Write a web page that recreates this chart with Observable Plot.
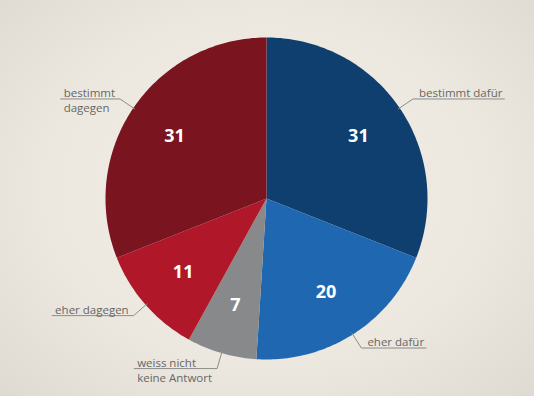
<!DOCTYPE html>
<html><head><meta charset="utf-8">
<script src="https://cdn.jsdelivr.net/npm/d3@7"></script>
<script src="https://cdn.jsdelivr.net/npm/@observablehq/plot@0.6"></script>
<style>
html,body{margin:0;padding:0;width:534px;height:396px;overflow:hidden;}
body{background: radial-gradient(ellipse 75% 80% at 50% 48%, #f3efe7 0%, #ece8df 55%, #dcd8cf 100%);}
svg{display:block;}
</style></head><body><div id="chart"></div>
<script>
// Data
const categories = ["bestimmt dafür", "eher dafür", "weiss nicht\nkeine Antwort", "eher dagegen", "bestimmt\ndagegen"];
const values = [31, 20, 7, 11, 31];
const colors = ["#0e3f6e", "#1f67b1", "#88898b", "#b0182a", "#7a141e"];

const total = d3.sum(values);
const labelSize = 11.5;
const ctx = document.createElement("canvas").getContext("2d");
ctx.font = `${labelSize}px 'Open Sans'`;

// Build slice geometry from values (angle clockwise from 12 o'clock)
let cum = 0;
const slices = values.map((v, i) => {
  const a0 = cum / total * 2 * Math.PI;
  cum += v;
  const a1 = cum / total * 2 * Math.PI;
  return {name: categories[i], value: v, a0, a1, mid: (a0 + a1) / 2};
});

const poly = [];
for (const s of slices) {
  poly.push({name: s.name, x: 0, y: 0});
  const n = Math.max(2, Math.ceil((s.a1 - s.a0) / (Math.PI / 180)));
  for (let k = 0; k <= n; k++) {
    const a = s.a0 + (s.a1 - s.a0) * k / n;
    poly.push({name: s.name, x: Math.sin(a), y: Math.cos(a)});
  }
}

const R = 161; // px per unit
const leaders = [];
const line1 = [], line2 = [];
for (const s of slices) {
  const ex = Math.sin(s.mid), ey = Math.cos(s.mid);
  const bx = ex * 1.1, by = ey * 1.1;
  const parts = s.name.split("\n");
  const w = d3.max(parts, p => ctx.measureText(p).width);
  const L = (w + 8) / R;
  const right = ex > 0;
  const endx = right ? bx + L : bx - L;
  leaders.push({name: s.name, x: ex * 0.99, y: ey * 0.99}, {name: s.name, x: bx, y: by}, {name: s.name, x: endx, y: by});
  const tx = Math.min(bx, endx) + (right ? 6 : 3) / R;
  line1.push({text: parts[0], x: tx, y: by});
  if (parts[1]) line2.push({text: parts[1], x: tx, y: by});
}

const nums = slices.map(s => ({text: String(s.value), x: Math.sin(s.mid) * 0.69, y: Math.cos(s.mid) * 0.69}));

const chart = Plot.plot({
  width: 534,
  height: 396,
  marginLeft: 105,
  marginRight: 107,
  marginTop: 37,
  marginBottom: 37,
  x: {domain: [-1, 1], axis: null},
  y: {domain: [-1, 1], axis: null},
  color: {domain: categories, range: colors},
  style: {background: "transparent", overflow: "visible"},
  marks: [
    Plot.line(poly, {x: "x", y: "y", z: "name", fill: "name", stroke: null, curve: "linear-closed"}),
    Plot.line(leaders, {x: "x", y: "y", z: "name", stroke: "#8c8c8c", strokeWidth: 1}),
    Plot.text(line1, {x: "x", y: "y", text: "text", textAnchor: "start", lineAnchor: "bottom", dy: -2, fill: "#666", fontSize: labelSize, fontFamily: "Open Sans"}),
    Plot.text(line2, {x: "x", y: "y", text: "text", textAnchor: "start", lineAnchor: "top", dy: 5, fill: "#666", fontSize: labelSize, fontFamily: "Open Sans"}),
    Plot.text(nums, {x: "x", y: "y", text: "text", fill: "white", fontSize: 18, fontWeight: "bold", fontFamily: "Open Sans"})
  ]
});
document.getElementById("chart").appendChild(chart);
</script>
</body></html>
